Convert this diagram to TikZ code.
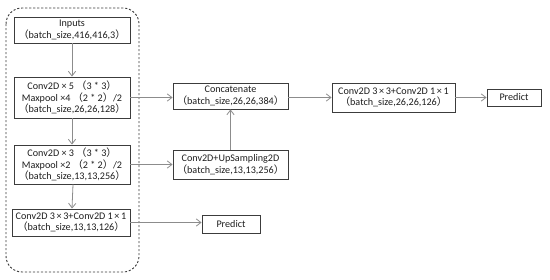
\documentclass[tikz,border=0pt]{standalone}
\usepackage{fontspec}
\setmainfont{Carlito}
\newfontfamily\cjk{Noto Sans CJK SC}
\usetikzlibrary{arrows.meta}
\newcommand{\lp}{{\cjk （}}
\newcommand{\rp}{{\cjk ）}}
\newcommand{\tm}{\,×\,}
\definecolor{boxline}{HTML}{3C3C3C}
\definecolor{conline}{HTML}{8C8C8C}
\definecolor{txt}{HTML}{1E1E1E}
\tikzset{
  blk/.style={draw=boxline, line width=0.7pt, fill=white, inner sep=0pt, align=center,
    text=txt, font=\fontsize{7.6}{8.6}\selectfont},
  con/.style={draw=conline, line width=0.6pt, -{Straight Barb[length=3.5pt,width=5.5pt]}},
  grp/.style={draw=boxline, line width=0.7pt, dash pattern=on 1.6pt off 1.4pt, rounded corners=12pt}
}
\begin{document}
\begin{tikzpicture}[x=0.75pt,y=-0.75pt]
\useasboundingbox (0,0) rectangle (550,279);
\draw[grp] (6,8) rectangle (139,272);
\node[blk, minimum width=87pt, minimum height=19.5pt] (in) at (72,30) {Inputs\\\lp batch\_size,416,416,3\rp};
\node[blk, minimum width=87pt, minimum height=30.75pt] (b2) at (72,97.5) {Conv2D × 5 \lp 3 * 3\rp\\Maxpool ×4 \lp 2 * 2\rp /2\\\lp batch\_size,26,26,128\rp};
\node[blk, minimum width=87pt, minimum height=29.25pt] (b3) at (72,164.5) {Conv2D × 3 \lp 3 * 3\rp\\Maxpool ×2 \lp 2 * 2\rp /2\\\lp batch\_size,13,13,256\rp};
\node[blk, minimum width=88.5pt, minimum height=20.25pt] (b4) at (71,222.5) {Conv2D 3\tm 3+Conv2D 1\tm 1\\\lp batch\_size,13,13,126\rp};
\node[blk, minimum width=86.25pt, minimum height=19.5pt] (cat) at (230.5,96) {Concatenate\\\lp batch\_size,26,26,384\rp};
\node[blk, minimum width=86.25pt, minimum height=21.75pt] (ups) at (230.5,164.5) {Conv2D+UpSampling2D\\\lp batch\_size,13,13,256\rp};
\node[blk, minimum width=92.25pt, minimum height=21.75pt] (c26) at (393.5,97.5) {Conv2D 3\tm 3+Conv2D 1\tm 1\\\lp batch\_size,26,26,126\rp};
\node[blk, minimum width=40.5pt, minimum height=12.75pt] (p1) at (514,97.5) {Predict};
\node[blk, minimum width=43.5pt, minimum height=13.5pt] (p2) at (231,224) {Predict};
\draw[con] (in) -- (b2);
\draw[con] (b2) -- (b3);
\draw[con] ([xshift=0.75pt]b3.south) -- ([xshift=0.75pt]b4.north);
\draw[con] (b2.east) -- (cat.west |- b2.east);
\draw[con] (b3.east) -- (ups.west |- b3.east);
\draw[con] (b4.east) -- (p2.west |- b4.east);
\draw[con] (ups) -- (cat);
\draw[con] (cat.east |- c26.west) -- (c26.west);
\draw[con] (c26) -- (p1);
\end{tikzpicture}
\end{document}
